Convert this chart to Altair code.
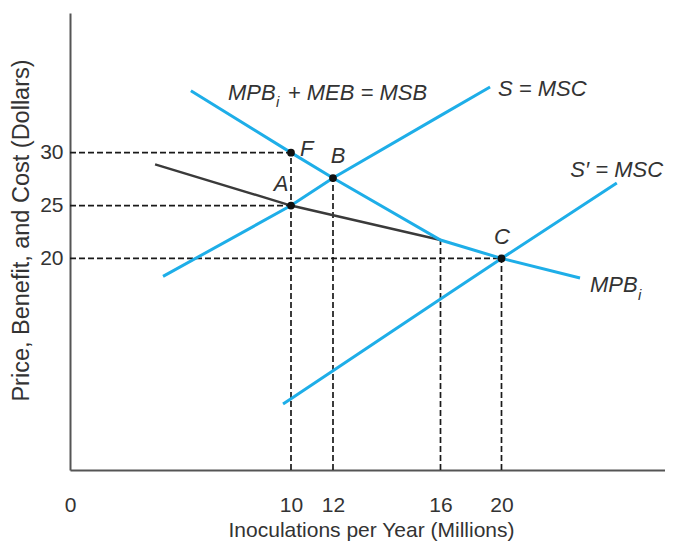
import altair as alt
import pandas as pd

# ---------------- data ----------------
x_ticks = [0, 10, 12, 16, 20]
y_ticks = [20, 25, 30]

# MPB_i + MEB = MSB (blue, continues as MPB_i after 16)
msb_x = [5.47, 10, 12, 16, 20, 23.65]
msb_y = [35.85, 30, 27.6, 21.74, 20, 18.15]
# MPB_i (dark line up to 16)
mpb_x = [3.85, 10, 16]
mpb_y = [28.9, 25, 21.74]
# S = MSC
s_x = [4.21, 10, 12, 16, 19.25]
s_y = [18.3, 25, 27.6, 33.5, 36.2]
# S' = MSC
s2_x = [9.64, 10, 12, 16, 20, 25.36]
s2_y = [6.24, 6.74, 9.39, 16.16, 20, 27.13]

# labelled points
pt_names = ["F", "A", "B", "C"]
pt_x = [10, 10, 12, 20]
pt_y = [30, 25, 27.6, 20]

# dashed guides
hguide_y = [30, 25, 20]
hguide_x2 = [10, 10, 20]
vguide_x = [10, 12, 16, 20]
vguide_y2 = [30, 27.6, 21.74, 20]

# text annotations
left_text = ["MPB", "S = MSC", "S\u2032 = MSC", "MPB", "F"]
left_x = [7.15, 19.77, 23.2, 24.11, 10.43]
left_y = [35.0, 35.35, 27.7, 16.8, 29.68]
right_text = ["+ MEB = MSB"]
right_x = [15.5]
right_y = [35.0]
center_text = ["A", "B", "C"]
center_x = [9.55, 12.19, 20.02]
center_y = [26.37, 29.0, 21.36]
sub_text = ["i", "i"]
sub_x = [9.32, 26.34]
sub_y = [34.3, 16.07]

# ---------------- chart ----------------
FONT = "Liberation Sans, Arial, sans-serif"
BLUE = "#1eaee8"
INK = "#333333"

xscale = alt.Scale(domain=[0, 10, 12, 16, 20, 27.6], range=[0, 221, 263, 370.5, 431.5, 595],
                   nice=False, zero=False)
yscale = alt.Scale(domain=[0, 43.2], nice=False, zero=False)

xaxis = alt.Axis(values=x_ticks, grid=False, ticks=False, tickSize=0, labelPadding=24,
                 labelFont=FONT, labelFontSize=21, labelColor=INK, labelFlush=False,
                 domainColor="#555555", domainWidth=2,
                 title="Inoculations per Year (Millions)", titleFont=FONT, titleFontSize=21,
                 titleFontWeight="normal", titleColor=INK, titleX=301, titleY=66,
                 titleAlign="center", titleBaseline="alphabetic")
yaxis = alt.Axis(values=y_ticks, grid=False, ticks=False, tickSize=0, labelPadding=7,
                 labelFont=FONT, labelFontSize=21, labelColor=INK, labelBaseline="middle",
                 domainColor="#555555", domainWidth=2,
                 title="Price, Benefit, and Cost (Dollars)", titleFont=FONT,
                 titleFontSize=23.5, titleFontWeight="normal", titleColor=INK, titleAngle=270,
                 titleX=-42, titleY=217, titleAlign="center", titleBaseline="alphabetic")


def X(field="x"):
    return alt.X(f"{field}:Q", scale=xscale, axis=xaxis)


def Y(field="y"):
    return alt.Y(f"{field}:Q", scale=yscale, axis=yaxis)


def line_df(xs, ys):
    return pd.DataFrame({"x": xs, "y": ys, "o": list(range(len(xs)))})


def text_layer(xs, ys, texts, align, size):
    return alt.Chart(pd.DataFrame({"x": xs, "y": ys, "t": texts})).mark_text(
        align=align, baseline="alphabetic", font=FONT, fontSize=size, fontStyle="italic", color=INK
    ).encode(x=X(), y=Y(), text="t:N")


hdf = pd.DataFrame({"x": [0] * len(hguide_y), "x2": hguide_x2, "y": hguide_y})
vdf = pd.DataFrame({"x": vguide_x, "y": [0] * len(vguide_x), "y2": vguide_y2})

hrules = alt.Chart(hdf).mark_rule(color="#1a1a1a", strokeWidth=1.7, strokeDash=[6, 3]).encode(
    x=X(), x2="x2:Q", y=Y())
vrules = alt.Chart(vdf).mark_rule(color="#1a1a1a", strokeWidth=1.7, strokeDash=[6, 3]).encode(
    x=X(), y=Y(), y2="y2:Q")

mpb_line = alt.Chart(line_df(mpb_x, mpb_y)).mark_line(color="#3a3a3a", strokeWidth=2.4).encode(
    x=X(), y=Y(), order="o:Q")
msb_line = alt.Chart(line_df(msb_x, msb_y)).mark_line(color=BLUE, strokeWidth=3).encode(
    x=X(), y=Y(), order="o:Q")
s_line = alt.Chart(line_df(s_x, s_y)).mark_line(color=BLUE, strokeWidth=3).encode(
    x=X(), y=Y(), order="o:Q")
s2_line = alt.Chart(line_df(s2_x, s2_y)).mark_line(color=BLUE, strokeWidth=3).encode(
    x=X(), y=Y(), order="o:Q")

pts = alt.Chart(pd.DataFrame({"x": pt_x, "y": pt_y, "name": pt_names})).mark_circle(
    color="#111111", size=60, opacity=1).encode(x=X(), y=Y())

lt = text_layer(left_x, left_y, left_text, "left", 22)
rt = text_layer(right_x, right_y, right_text, "right", 22)
ct = text_layer(center_x, center_y, center_text, "center", 22)
st = text_layer(sub_x, sub_y, sub_text, "left", 15)

chart = alt.layer(hrules, vrules, mpb_line, msb_line, s_line, s2_line, pts, lt, rt, ct, st).properties(
    width=595, height=457,
    padding={"left": 62, "top": 5, "right": 0, "bottom": 71},
    autosize=alt.AutoSizeParams(type="none"),
).configure(background="white").configure_view(stroke=None)

chart.save("out.html", embed_options={"renderer": "svg", "actions": False})
